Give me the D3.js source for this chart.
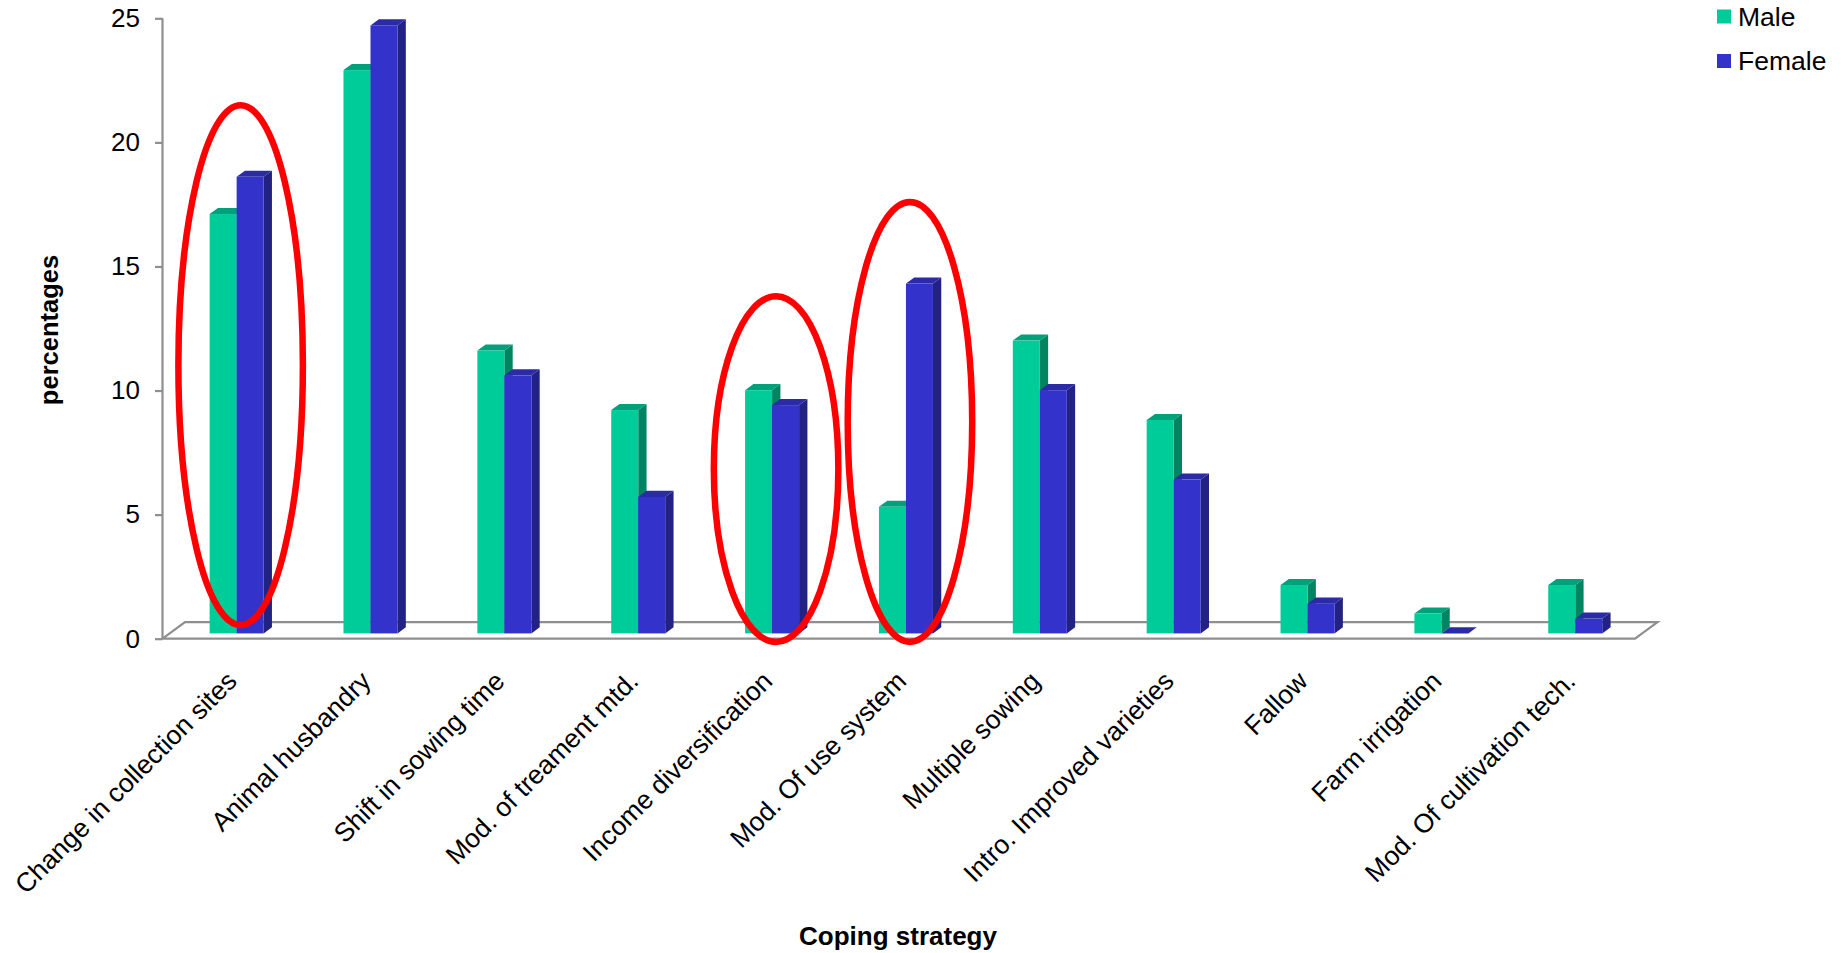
<!DOCTYPE html>
<html>
<head>
<meta charset="utf-8">
<script src="https://cdn.jsdelivr.net/npm/d3@7"></script>
<style>
  html, body { margin: 0; padding: 0; background: #fff; }
  svg { display: block; font-family: "Liberation Sans", Arial, sans-serif; }
</style>
</head>
<body>
<svg id="chart" width="1842" height="953"></svg>
<script>
// Coping strategies reported by male and female respondents (percentages)
const categories = [
  "Change in collection sites",
  "Animal husbandry",
  "Shift in sowing time",
  "Mod. of treament mtd.",
  "Income diversification",
  "Mod. Of use system",
  "Multiple sowing",
  "Intro. Improved varieties",
  "Fallow",
  "Farm irrigation",
  "Mod. Of cultivation tech."
];
const seriesNames = ["Male", "Female"];
const maleValues   = [16.9, 22.7, 11.4, 9.0, 9.8, 5.1, 11.8, 8.6, 1.95, 0.8, 1.95];
const femaleValues = [18.4, 24.5, 10.4, 5.5, 9.2, 14.1, 9.8, 6.2, 1.2, 0, 0.6];
const yTicks = [0, 5, 10, 15, 20, 25];

// Highlighted categories, with the value range each red ring spans
const ringCategories = ["Change in collection sites", "Income diversification", "Mod. Of use system"];
const ringTop    = [21.5, 13.8, 17.6];
const ringBottom = [0.55, -0.13, -0.13];

(function draw() {
  const svg = d3.select("#chart");

  // Plot frame (front plane of the floor) and 3D depth offsets
  const plotLeft = 162.5, plotRight = 1635, plotTop = 18.3, floorY = 638.7;
  const depthX = 22.5, depthY = 16.5;          // floor depth
  const barFront = 0.32, barDepth = 0.37;       // bar placement inside the floor depth

  const x = d3.scaleBand().domain(categories).range([plotLeft, plotRight]);
  const xs = d3.scaleBand().domain(seriesNames).range([-27, 27]);
  const y = d3.scaleLinear().domain([0, 25]).range([floorY, plotTop]);

  const colors = {
    Male:   { front: "#00cc99", top: "#00a07a", side: "#008461" },
    Female: { front: "#3333cc", top: "#2b2ba6", side: "#222282" }
  };
  const grey = "#8f8f8f";

  // Floor
  const fx0 = barFront * depthX, fy0 = barFront * depthY;
  svg.append("path")
    .attr("d", `M${plotLeft},${floorY} L${plotRight},${floorY} L${plotRight + depthX},${floorY - depthY} L${plotLeft + depthX},${floorY - depthY} Z`)
    .attr("fill", "#fff").attr("stroke", grey).attr("stroke-width", 2.2);

  // Value axis
  svg.append("line")
    .attr("x1", plotLeft).attr("x2", plotLeft).attr("y1", y(25)).attr("y2", floorY)
    .attr("stroke", grey).attr("stroke-width", 2.2);
  const yAxis = d3.axisLeft(y).tickValues(yTicks).tickSize(7.5).tickPadding(15).tickFormat(d3.format("d"));
  const gy = svg.append("g").attr("transform", `translate(${plotLeft},0)`).call(yAxis);
  gy.select(".domain").remove();
  gy.selectAll(".tick line").attr("stroke", grey).attr("stroke-width", 2.2);
  gy.selectAll(".tick text").attr("font-size", 26).attr("fill", "#000")
    .attr("font-family", "Liberation Sans, Arial, sans-serif");

  // Bars drawn as prisms: front face, top cap and right side
  const bx = barDepth * depthX, by = barDepth * depthY;
  const series = [
    { name: "Male", values: maleValues },
    { name: "Female", values: femaleValues }
  ];
  const gBars = svg.append("g");
  series.forEach(s => {
    const c = colors[s.name];
    categories.forEach((cat, i) => {
      const v = s.values[i];
      const x0 = x(cat) + x.bandwidth() / 2 + fx0 + xs(s.name);
      const w = xs.bandwidth();
      const yb = y(0) - fy0;
      const yt = y(v) - fy0;
      const g = gBars.append("g");
      g.append("path")
        .attr("d", `M${x0 + w},${yt} L${x0 + w + bx},${yt - by} L${x0 + w + bx},${yb - by} L${x0 + w},${yb} Z`)
        .attr("fill", c.side);
      g.append("path")
        .attr("d", `M${x0},${yt} L${x0 + bx},${yt - by} L${x0 + w + bx},${yt - by} L${x0 + w},${yt} Z`)
        .attr("fill", c.top);
      g.append("rect")
        .attr("x", x0).attr("y", yt).attr("width", w).attr("height", yb - yt)
        .attr("fill", c.front);
    });
  });

  // Red rings around highlighted groups
  ringCategories.forEach((cat, i) => {
    const cx = x(cat) + x.bandwidth() / 2 + fx0 + 4;
    const yT = y(ringTop[i]), yB = y(ringBottom[i]);
    svg.append("ellipse")
      .attr("cx", cx).attr("cy", (yT + yB) / 2)
      .attr("rx", x.bandwidth() * 0.465).attr("ry", (yB - yT) / 2)
      .attr("fill", "none").attr("stroke", "#ff0000").attr("stroke-width", 6.5);
  });

  // Category labels, rotated
  svg.append("g").selectAll("text").data(categories).join("text")
    .attr("transform", d => `translate(${x(d) + x.bandwidth() / 2 + 9},${floorY + 44}) rotate(-45)`)
    .attr("text-anchor", "end")
    .attr("font-size", 26.5)
    .attr("fill", "#000")
    .text(d => d);

  // Axis titles
  svg.append("text")
    .attr("transform", `translate(49,330) rotate(-90)`)
    .attr("text-anchor", "middle").attr("dominant-baseline", "central")
    .attr("font-size", 25.5).attr("font-weight", "bold")
    .text("percentages");
  svg.append("text")
    .attr("x", 898).attr("y", 936)
    .attr("text-anchor", "middle").attr("dominant-baseline", "central")
    .attr("font-size", 26).attr("font-weight", "bold")
    .text("Coping strategy");

  // Legend
  const legend = svg.append("g").attr("transform", "translate(1717,0)");
  seriesNames.forEach((name, i) => {
    const cy = 16.5 + i * 44.5;
    legend.append("rect").attr("x", 0).attr("y", cy - 7).attr("width", 14).attr("height", 14)
      .attr("fill", colors[name].front);
    legend.append("text").attr("x", 21).attr("y", cy)
      .attr("dominant-baseline", "central").attr("font-size", 26.5).attr("fill", "#000")
      .text(name);
  });
})();
</script>
</body>
</html>
